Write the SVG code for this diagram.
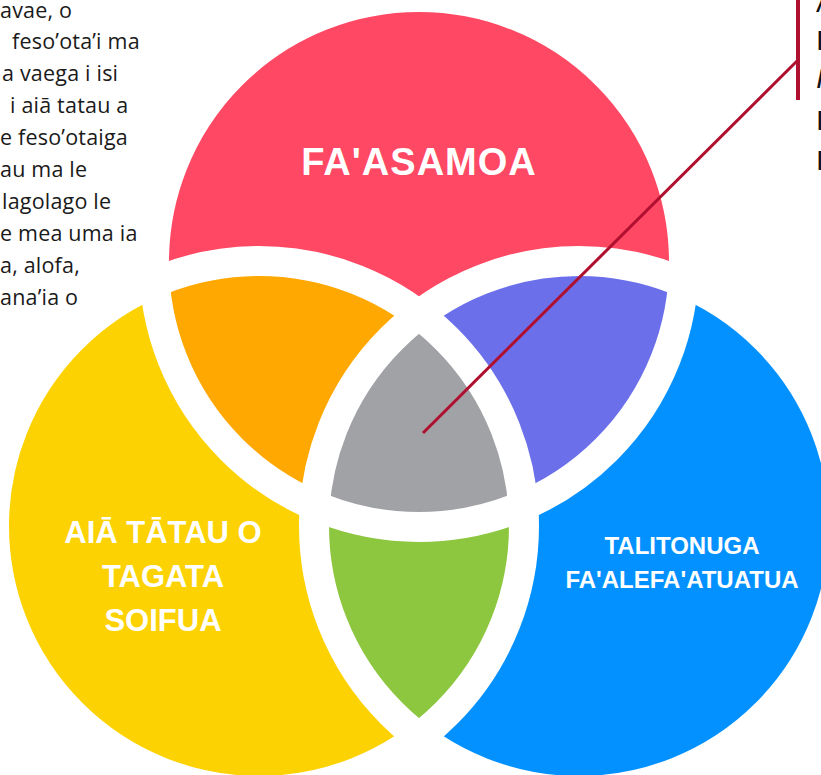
<svg xmlns="http://www.w3.org/2000/svg" width="821" height="775" viewBox="0 0 821 775">
<style>
.para{font-family:"Open Sans","Noto Sans",sans-serif;font-size:21.5px;letter-spacing:0.2px;fill:#1a1a1a}
.side{font-family:"Liberation Sans",Arial,sans-serif;font-size:28px;fill:#111}
.lbl{font-family:"Liberation Sans",Arial,sans-serif;font-weight:bold;fill:#ffffff;text-anchor:middle}
.band{fill:none;stroke:#ffffff;stroke-width:30}
</style>
<defs>
<clipPath id="cT"><circle cx="419" cy="262" r="265"/></clipPath>
<clipPath id="cL"><circle cx="259" cy="526" r="265"/></clipPath>
<clipPath id="cR"><circle cx="579" cy="526" r="265"/></clipPath>
</defs>
<rect width="821" height="775" fill="#ffffff"/>
<g id="paragraph-left">
<text class="para" x="0" y="18">avae, o</text>
<text class="para" x="12" y="49">feso’ota’i ma</text>
<text class="para" x="2" y="81">a vaega i isi</text>
<text class="para" x="10" y="113">i aiā tatau a</text>
<text class="para" x="0" y="145">e feso’otaiga</text>
<text class="para" x="0" y="177">au ma le</text>
<text class="para" x="2" y="209">lagolago le</text>
<text class="para" x="0" y="241">e mea uma ia</text>
<text class="para" x="0" y="273">a, alofa,</text>
<text class="para" x="0" y="305">ana’ia o</text>
</g>
<g id="paragraph-right">
<text class="side" x="816" y="12">A</text>
<text class="side" x="816" y="50">I</text>
<text class="side" x="816" y="88" font-style="italic">I</text>
<text class="side" x="816" y="130">I</text>
<text class="side" x="816" y="170">I</text>
</g>
<g id="circle-faasamoa"><circle cx="419" cy="262" r="265" fill="#FF4863"/></g>
<g id="circle-aia-tatau"><circle cx="259" cy="526" r="265" fill="#FDD203"/></g>
<g id="circle-talitonuga"><circle cx="579" cy="526" r="265" fill="#0391FF"/></g>
<g id="overlap-top-left" clip-path="url(#cT)"><circle cx="259" cy="526" r="265" fill="#FFA801"/></g>
<g id="overlap-top-right" clip-path="url(#cT)"><circle cx="579" cy="526" r="265" fill="#6B6FEA"/></g>
<g id="overlap-bottom" clip-path="url(#cL)"><circle cx="579" cy="526" r="265" fill="#8DC63F"/></g>
<g id="overlap-center" clip-path="url(#cT)"><g clip-path="url(#cL)"><circle cx="579" cy="526" r="265" fill="#A1A2A6"/></g></g>
<g id="bands">
<circle class="band" cx="419" cy="262" r="265"/>
<circle class="band" cx="259" cy="526" r="265"/>
<circle class="band" cx="579" cy="526" r="265"/>
</g>
<g id="labels">
<text class="lbl" x="419" y="175" font-size="38" letter-spacing="1">FA'ASAMOA</text>
<text class="lbl" x="163" y="543" font-size="31">AIĀ TĀTAU O</text>
<text class="lbl" x="163" y="587" font-size="31">TAGATA</text>
<text class="lbl" x="163" y="631" font-size="31">SOIFUA</text>
<text class="lbl" x="682" y="554" font-size="24">TALITONUGA</text>
<text class="lbl" x="682" y="588" font-size="24">FA'ALEFA'ATUATUA</text>
</g>
<g id="connectors" stroke="#B01030" fill="none">
<line x1="423" y1="433" x2="798" y2="60" stroke-width="3"/>
<line x1="798" y1="0" x2="798" y2="100" stroke-width="4"/>
</g>
</svg>
